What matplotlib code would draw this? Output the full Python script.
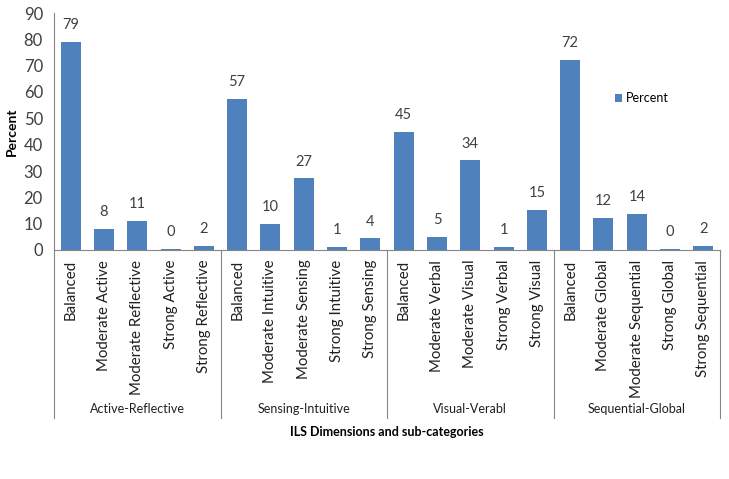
import matplotlib
matplotlib.use("Agg")
import matplotlib.pyplot as plt
from matplotlib.lines import Line2D

plt.rcParams['font.family'] = ['Lato', 'DejaVu Sans']

groups = ["Active-Reflective", "Sensing-Intuitive", "Visual-Verabl", "Sequential-Global"]
subcats = [
    ["Balanced", "Moderate Active", "Moderate Reflective", "Strong Active", "Strong Reflective"],
    ["Balanced", "Moderate Intuitive", "Moderate Sensing", "Strong Intuitive", "Strong Sensing"],
    ["Balanced", "Moderate Verbal", "Moderate Visual", "Strong Verbal", "Strong Visual"],
    ["Balanced", "Moderate Global", "Moderate Sequential", "Strong Global", "Strong Sequential"],
]
percent = [79, 8, 11, 0.4, 1.6,
           57.4, 10, 27.2, 1.2, 4.4,
           45, 5, 34, 1.1, 15.3,
           72.3, 12.3, 13.7, 0.4, 1.6]

labels = [s for g in subcats for s in g]
x = list(range(len(labels)))
color = "#4F81BD"
gray = "#868686"

fig = plt.figure(figsize=(7.29, 4.79), dpi=100)
ax = fig.add_axes([54/729, 1-250/479, 666/729, 237/479])

bars = ax.bar(x, percent, width=0.6, color=color, label="Percent")
for xi, v in zip(x, percent):
    ax.annotate(f"{v:.0f}", (xi, v), xytext=(0, 7), textcoords="offset points",
                ha="center", va="bottom", fontsize=10.5, color="#404040")

ax.set_xlim(-0.5, len(labels)-0.5)
ax.set_ylim(0, 90)
ax.set_yticks(range(0, 91, 10))
ax.tick_params(axis='y', length=0, pad=8, labelsize=12, labelcolor="#404040")
ax.set_xticks(x)
ax.set_xticklabels(labels, rotation=90, fontsize=10.8, color="#202020")
ax.tick_params(axis='x', length=0, pad=7)
for s in ["top", "right"]:
    ax.spines[s].set_visible(False)
for s in ["left", "bottom"]:
    ax.spines[s].set_color(gray)

ax.set_ylabel("Percent", fontweight="bold", fontsize=10, labelpad=4)

# group separators and labels
n = len(subcats[0])
bottom_y = 1 - 418/479
axis_y = 1 - 250/479
for k in range(len(groups) + 1):
    xd = k * n - 0.5
    xf = fig.transFigure.inverted().transform(ax.transData.transform((xd, 0)))[0]
    fig.add_artist(Line2D([xf, xf], [bottom_y, axis_y], color=gray, lw=0.8))
for k, g in enumerate(groups):
    xc = k * n + (n - 1) / 2
    xf = fig.transFigure.inverted().transform(ax.transData.transform((xc, 0)))[0]
    fig.text(xf, 1 - 409/479, g, ha="center", va="center", fontsize=9, color="#202020")

fig.text((54 + 720) / 2 / 729, 1 - 432/479, "ILS Dimensions and sub-categories",
         ha="center", va="center", fontweight="bold", fontsize=9)

ax.legend(loc="center left", bbox_to_anchor=(0.825, 0.64), frameon=False,
          fontsize=9, handlelength=0.6, handleheight=0.6, handletextpad=0.3)

fig.savefig("out.png", dpi=100)
